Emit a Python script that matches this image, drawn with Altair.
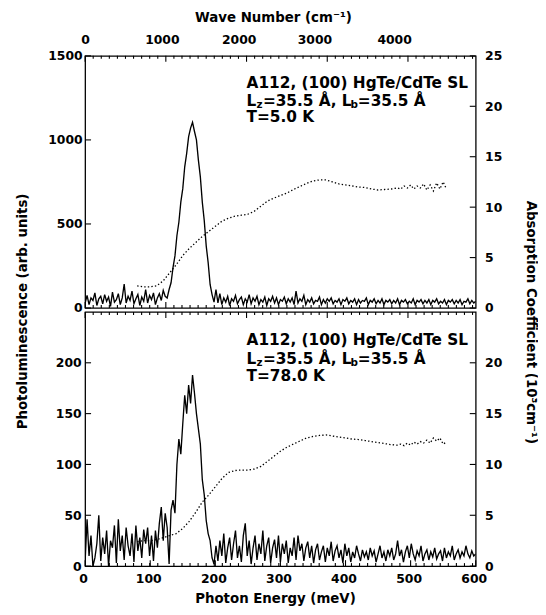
import altair as alt
import pandas as pd

MEV_TO_WN = 8.06554
FONT = "DejaVu Sans"

# ---------------- data ----------------
PL_STEP = 3  # meV between photoluminescence samples, starting at 0 meV

pl_5K = [30, 75, 20, 60, 45, 90, 15, 55, 70, 25, 80, 40, 65, 10, 95, 35, 50, 85, 20, 60,
         142, 30, 70, 45, 100, 25, 55, 80, 15, 65, 40, 110, 30, 75, 50, 90, 20, 60, 85, 45,
         105, 70,
         60, 110, 150, 240, 310, 430, 510, 630, 710, 840, 920, 1020, 1070, 1105, 1050, 1000,
         880, 780, 630, 520, 370, 270, 140, 80, 35,
         110, 30, 85, 20, 60, 35, 70, 15, 55, 40, 75, 25, 50, 65, 20, 55, 35, 80, 25, 60,
         40, 70, 20, 50, 35, 65, 15, 55, 40, 70, 30, 60, 20, 50, 40, 65, 25, 55, 35, 60,
         20, 100, 30, 55, 40, 75, 20, 50, 35, 60, 25, 45, 40, 65, 20, 50, 30, 55, 40, 60,
         25, 45, 35, 55, 20, 50, 40, 60, 25, 45, 35, 55, 20, 50, 30, 45, 40, 60, 20, 45,
         35, 55, 25, 45, 30, 55, 20, 45, 35, 50, 25, 45, 30, 55, 20, 45, 35, 50, 25, 40,
         30, 55, 20, 45, 35, 50, 25, 45, 30, 50, 20, 45, 35, 55, 25, 40, 30, 50, 20, 45,
         35, 50, 25, 45, 30, 50, 20, 40, 35, 55, 25, 45, 30, 40]

pl_78K = [5, 46, 10, 30, 0, 8, 22, 50, 5, 28, 12, 35, 0, 25, 18, 40, 3, 46, 15, 30,
          6, 38, 20, 10, 32, 4, 40, 15, 28, 8, 36, 22, 38, 10, 30, 5, 35, 18, 42, 58,
          25, 52, 38,
          2, 55, 65, 52, 100, 125, 110, 140, 168, 150, 178, 160, 188, 170, 150, 135, 120,
          85, 70, 45, 32, 25, 8, 2,
          20, 5, 25, 10, 32, 3, 18, 28, 6, 22, 35, 8, 20, 4, 30, 42, 10, 25, 2, 18,
          30, 6, 22, 12, 35, 5, 20, 28, 3, 18, 26, 8, 30, 4, 22, 12, 25, 3, 18, 10,
          28, 6, 30, 15, 22, 5, 18, 24, 8, 20, 3, 16, 22, 6, 14, 20, 4, 18, 10, 24,
          5, 15, 20, 8, 16, 3, 22, 10, 18, 4, 14, 8, 20, 12, 5, 16, 9, 14, 6, 18,
          10, 15, 4, 12, 20, 8, 14, 5, 16, 10, 18, 6, 12, 25, 10, 16, 4, 14, 20, 8,
          22, 12, 6, 15, 10, 20, 5, 12, 16, 6, 14, 9, 18, 7, 12, 15, 5, 18, 8, 14,
          10, 20, 6, 12, 16, 8, 14, 10, 20, 12, 8, 15, 10, 12]

abs_energy = [80, 90, 100, 110, 120, 130, 140, 150, 160, 170, 180, 190, 200, 210, 220,
              230, 240, 250, 260, 270, 280, 290, 300, 310, 320, 330, 340, 350, 360, 370,
              380, 390, 400, 410, 420, 430, 440, 450, 460, 470, 480, 485, 490, 495, 500,
              505, 510, 515, 520, 525, 530, 535, 540, 545, 550, 555]

abs_5K = [2.2, 2.1, 2.1, 2.2, 2.7, 3.5, 4.3, 5.2, 5.9, 6.5, 7.1, 7.6, 8.1, 8.6, 8.9,
          9.1, 9.2, 9.3, 9.6, 10.1, 10.6, 10.9, 11.15, 11.4, 11.75, 12.05, 12.35, 12.6, 12.7, 12.7,
          12.5, 12.3, 12.2, 12.1, 12.0, 11.95, 11.8, 11.7, 11.75, 11.8, 11.9, 11.8, 12.1, 11.9, 12.2,
          11.8, 12.1, 11.9, 12.3, 11.7, 12.2, 11.6, 12.4, 11.8, 12.5, 11.8]

abs_78K = [2.4, 2.5, 2.5, 2.6, 2.8, 3.0, 3.2, 3.7, 4.4, 5.3, 6.3, 7.0, 7.8, 8.6, 9.2,
           9.4, 9.45, 9.45, 9.55, 9.8, 10.3, 10.8, 11.3, 11.7, 12.0, 12.3, 12.6, 12.75, 12.85, 12.9,
           12.8, 12.7, 12.6, 12.5, 12.45, 12.35, 12.25, 12.15, 12.05, 11.95, 11.9, 12.0, 11.85, 12.1, 11.9,
           12.2, 12.0, 12.25, 12.1, 12.4, 12.1, 12.6, 12.3, 12.6, 12.0, 12.2]

energy_ticks = [0, 100, 200, 300, 400, 500, 600]
wn_major = [0, 1000, 2000, 3000, 4000]
wn_minor = [w for w in range(100, 4900, 100) if w % 1000 != 0]
pl_ticks_5K = [0, 500, 1000, 1500]
pl_ticks_78K = [0, 50, 100, 150, 200]
abs_ticks_5K = [0, 5, 10, 15, 20, 25]
abs_ticks_78K = [0, 5, 10, 15, 20]

sample = "A112, (100) HgTe/CdTe SL"
temp_5K = "T=5.0 K"
temp_78K = "T=78.0 K"

# ---------------- frames ----------------
df_pl5 = pd.DataFrame({"E": [PL_STEP * i for i in range(len(pl_5K))], "PL": pl_5K})
df_pl78 = pd.DataFrame({"E": [PL_STEP * i for i in range(len(pl_78K))], "PL": pl_78K})
df_a5 = pd.DataFrame({"E": abs_energy, "A": abs_5K})
df_a78 = pd.DataFrame({"E": abs_energy, "A": abs_78K})

wn_major_mev = [w / MEV_TO_WN for w in wn_major]
wn_minor_mev = [w / MEV_TO_WN for w in wn_minor]

W = 395
H_TOP = 255
H_BOT = 257
MAJ = 6
MIN = 3

XS = alt.Scale(domain=[0, 600], nice=False, zero=False)


def yscale(dom):
    return alt.Scale(domain=dom, nice=False, zero=False)


def xticks(values, orient, size, h):
    y0, y1 = (0, size) if orient == "top" else (h - size, h)
    return alt.Chart(pd.DataFrame({"E": values})).mark_rule(
        color="black", strokeWidth=1.1
    ).encode(x=alt.X("E:Q", scale=XS, axis=None), y=alt.value(y0), y2=alt.value(y1))


def yticks(values, dom, side, size):
    x0, x1 = (0, size) if side == "left" else (W - size, W)
    return alt.Chart(pd.DataFrame({"V": values})).mark_rule(
        color="black", strokeWidth=1.1
    ).encode(y=alt.Y("V:Q", scale=yscale(dom), axis=None), x=alt.value(x0), x2=alt.value(x1))


def label_text(s, e, v, dom, dx=0, dy=0, size=15.5):
    return alt.Chart(pd.DataFrame({"E": [e], "V": [v], "T": [s]})).mark_text(
        align="left", baseline="middle", font=FONT, fontWeight="bold",
        fontSize=size, color="black", dx=dx, dy=dy
    ).encode(
        x=alt.X("E:Q", scale=XS, axis=None),
        y=alt.Y("V:Q", scale=yscale(dom), axis=None),
        text="T:N",
    )


def notes(e, v1, v2, v3, dom, temp):
    return [
        label_text(sample, e, v1, dom),
        label_text("L", e, v2, dom),
        label_text("z", e, v2, dom, dx=10, dy=4, size=10.5),
        label_text("=35.5 Å, L", e, v2, dom, dx=16.5),
        label_text("b", e, v2, dom, dx=105, dy=4, size=10.5),
        label_text("=35.5 Å", e, v2, dom, dx=112.5),
        label_text(temp, e, v3, dom),
    ]


PL_TITLE = "Photoluminescence (arb. units)"
AB_TITLE = "Absorption Coefficient (10³cm⁻¹)"

LINE_W = 1.35
DOTS = [1.4, 2.2]

# ---------------- top panel (5 K) ----------------
dom_pl5 = [0, 1500]
dom_ab = [0, 25]

top_axis = alt.Axis(orient="top", values=wn_major_mev,
                    labelExpr="format(round(datum.value*8.06554/100)*100, 'd')",
                    ticks=False, domain=False, grid=False, labelPadding=9,
                    labelFlush=False, labelOverlap=False,
                    labelOffset={"condition": [
                        {"test": "datum.value > 450", "value": -14},
                        {"test": "datum.value > 300", "value": -13},
                        {"test": "datum.value > 200", "value": -8},
                        {"test": "datum.value > 100", "value": -4}],
                        "value": 0},
                    title="Wave Number (cm⁻¹)", titleX=190, titleY=-39,
                    titleAlign="center", titleBaseline="middle")
left_axis_5 = alt.Axis(orient="left", values=pl_ticks_5K, format="d", ticks=False,
                       domain=False, grid=False, labelPadding=3, labelOverlap=False,
                       title=PL_TITLE, titleX=-63, titleY=258, titleAngle=270,
                       titleAlign="center", titleBaseline="middle")
right_axis_5 = alt.Axis(orient="right", values=abs_ticks_5K, format="d", ticks=False,
                        domain=False, grid=False, labelPadding=9, labelOverlap=False,
                        title=AB_TITLE, titleX=55, titleY=269, titleAngle=90,
                        titleAlign="center", titleBaseline="middle")

pl5 = alt.Chart(df_pl5).mark_line(color="black", strokeWidth=LINE_W, clip=True).encode(
    x=alt.X("E:Q", scale=XS, axis=top_axis),
    y=alt.Y("PL:Q", scale=yscale(dom_pl5), axis=left_axis_5),
)
ab5 = alt.Chart(df_a5).mark_line(color="black", strokeWidth=1.3, strokeDash=DOTS, clip=True).encode(
    x=alt.X("E:Q", scale=XS, axis=None),
    y=alt.Y("A:Q", scale=yscale(dom_ab), axis=right_axis_5),
)
top = alt.layer(
    pl5, ab5,
    xticks(wn_major_mev, "top", MAJ, H_TOP),
    xticks(wn_minor_mev, "top", MIN, H_TOP),
    xticks(wn_major_mev, "bottom", MAJ, H_TOP),
    xticks(wn_minor_mev, "bottom", MIN, H_TOP),
    yticks(pl_ticks_5K, dom_pl5, "left", MAJ),
    yticks(abs_ticks_5K, dom_ab, "right", MAJ),
    *notes(248, 1341, 1234, 1134, dom_pl5, temp_5K),
).resolve_scale(y="independent").resolve_axis(x="independent", y="independent").properties(
    width=W, height=H_TOP)

# ---------------- bottom panel (78 K) ----------------
dom_pl78 = [0, 250]

bottom_axis = alt.Axis(orient="bottom", values=energy_ticks, format="d", ticks=False,
                       domain=False, grid=False, labelPadding=7, labelFlush=False,
                       labelOverlap=False, labelOffset=-2,
                       title="Photon Energy (meV)", titleX=192, titleY=33,
                       titleAlign="center", titleBaseline="middle")
left_axis_78 = alt.Axis(orient="left", values=pl_ticks_78K, format="d", ticks=False,
                        domain=False, grid=False, labelPadding=4, labelOverlap=False,
                        title=None)
right_axis_78 = alt.Axis(orient="right", values=abs_ticks_78K, format="d", ticks=False,
                         domain=False, grid=False, labelPadding=9, labelOverlap=False,
                         title=None)

pl78 = alt.Chart(df_pl78).mark_line(color="black", strokeWidth=LINE_W, clip=True).encode(
    x=alt.X("E:Q", scale=XS, axis=bottom_axis),
    y=alt.Y("PL:Q", scale=yscale(dom_pl78), axis=left_axis_78),
)
ab78 = alt.Chart(df_a78).mark_line(color="black", strokeWidth=1.3, strokeDash=DOTS, clip=True).encode(
    x=alt.X("E:Q", scale=XS, axis=None),
    y=alt.Y("A:Q", scale=yscale(dom_ab), axis=right_axis_78),
)
bottom = alt.layer(
    pl78, ab78,
    xticks(wn_major_mev, "top", MAJ, H_BOT),
    xticks(wn_minor_mev, "top", MIN, H_BOT),
    xticks(energy_ticks, "bottom", MAJ, H_BOT),
    xticks(wn_minor_mev, "bottom", MIN, H_BOT),
    yticks(pl_ticks_78K, dom_pl78, "left", MAJ),
    yticks(abs_ticks_78K, dom_ab, "right", MAJ),
    *notes(248, 222, 204, 187, dom_pl78, temp_78K),
).resolve_scale(y="independent").resolve_axis(x="independent", y="independent").properties(
    width=W, height=H_BOT)

chart = alt.vconcat(top, bottom, spacing=4, bounds="flush").properties(
    padding={"left": 7, "top": -2, "right": 0, "bottom": 0},
    background="white",
).configure_view(
    stroke="black", strokeWidth=1.3
).configure_axis(
    labelFont=FONT, labelFontSize=12.5, labelFontWeight="bold", labelColor="black",
    titleFont=FONT, titleFontSize=13.5, titleFontWeight="bold", titleColor="black",
)

chart.save("out.html", embed_options={"renderer": "svg", "actions": False})
